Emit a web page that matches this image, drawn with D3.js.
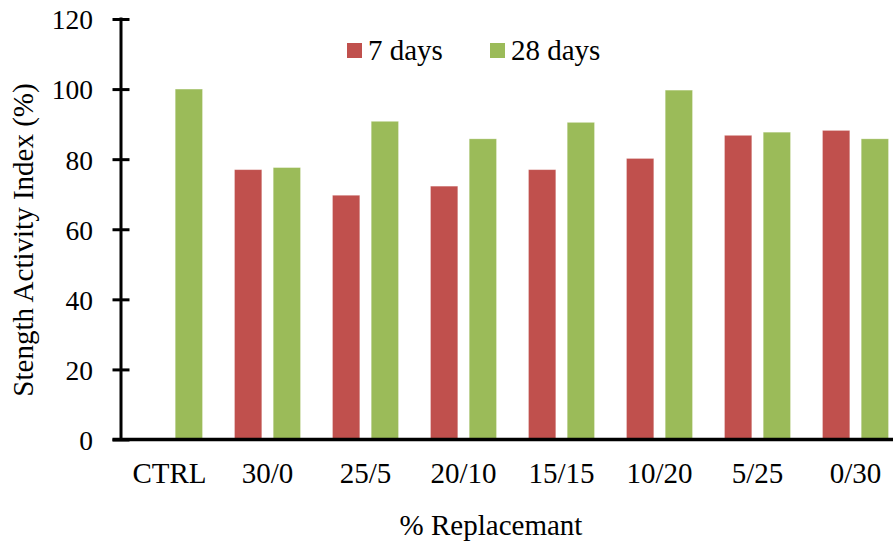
<!DOCTYPE html>
<html>
<head>
<meta charset="utf-8">
<script src="https://cdn.jsdelivr.net/npm/d3@7"></script>
<style>
  html, body { margin: 0; padding: 0; background: #fff; }
  svg { display: block; }
  text { font-family: "Liberation Serif", "Times New Roman", serif; fill: #000; }
</style>
</head>
<body>
<svg id="chart" width="893" height="545"></svg>
<script>
const categories = ["CTRL", "30/0", "25/5", "20/10", "15/15", "10/20", "5/25", "0/30"];
const seriesNames = ["7 days", "28 days"];
const days7 = [null, 77, 69.7, 72.3, 77, 80.2, 86.8, 88.2];
const days28 = [100, 77.6, 90.8, 85.8, 90.5, 99.7, 87.7, 85.8];
const yTicks = [0, 20, 40, 60, 80, 100, 120];
const colors = ["#C0504D", "#9BBB59"];

const svg = d3.select("#chart");
const W = 893, H = 545;

const y = d3.scaleLinear().domain([0, 120]).range([439.5, 19]);
const x0 = d3.scaleBand().domain(categories).range([120.5, 904.5]).paddingInner(0).paddingOuter(0);
const x1 = d3.scaleBand().domain(seriesNames).range([16, 82]).paddingInner(0.295).paddingOuter(0);

const seriesValues = [days7, days28];
const data = [];
categories.forEach((c, i) => {
  seriesNames.forEach((s, j) => {
    const v = seriesValues[j][i];
    if (v !== null && v !== undefined) data.push({ cat: c, series: s, value: v, color: colors[j] });
  });
});

// bars
svg.append("g").selectAll("rect").data(data).join("rect")
  .attr("x", d => x0(d.cat) + x1(d.series))
  .attr("y", d => y(d.value))
  .attr("width", x1.bandwidth())
  .attr("height", d => y(0) - y(d.value))
  .attr("fill", d => d.color)
  .attr("stroke", "#ffffff")
  .attr("stroke-opacity", 0.35)
  .attr("stroke-width", 0.8);

// y axis
const yAxis = d3.axisLeft(y).tickValues(yTicks).tickSize(0).tickPadding(0).tickFormat(d3.format("d"));
const gy = svg.append("g").attr("transform", "translate(121,0)").call(yAxis);
gy.select(".domain").remove();
gy.selectAll(".tick text")
  .attr("x", -28)
  .attr("dy", "0.36em")
  .attr("text-anchor", "end")
  .style("font-size", "27.5px")
  .style("font-family", "'Liberation Serif', 'Times New Roman', serif")
  .attr("fill", "#000");
gy.selectAll(".tick").append("line")
  .attr("x1", -8.5).attr("x2", 8.5)
  .attr("stroke", "#000").attr("stroke-width", 3);
gy.append("line")
  .attr("x1", 0).attr("x2", 0)
  .attr("y1", y(120) - 1.5).attr("y2", y(0))
  .attr("stroke", "#000").attr("stroke-width", 3);

// x axis
const xAxis = d3.axisBottom(x0).tickSize(0).tickPadding(0);
const gx = svg.append("g").attr("transform", `translate(0,${y(0)})`).call(xAxis);
gx.select(".domain").remove();
gx.selectAll(".tick text")
  .attr("y", 43)
  .attr("dy", 0)
  .style("font-size", "29px")
  .style("font-family", "'Liberation Serif', 'Times New Roman', serif")
  .attr("fill", "#000");
gx.append("line")
  .attr("x1", 112.5).attr("x2", W)
  .attr("y1", 0).attr("y2", 0)
  .attr("stroke", "#000").attr("stroke-width", 3.5);

// axis titles
svg.append("text")
  .attr("x", 491).attr("y", 535)
  .attr("text-anchor", "middle")
  .style("font-size", "29px")
  .text("% Replacemant");

svg.append("text")
  .attr("transform", "translate(33,240) rotate(-90)")
  .attr("text-anchor", "middle")
  .style("font-size", "29px")
  .text("Stength Activity Index (%)");

// legend
const legendX = [347, 490];
const legend = svg.append("g");
seriesNames.forEach((s, j) => {
  legend.append("rect")
    .attr("x", legendX[j]).attr("y", 43)
    .attr("width", 15).attr("height", 15)
    .attr("fill", colors[j]);
  legend.append("text")
    .attr("x", legendX[j] + 21).attr("y", 60)
    .style("font-size", "29px")
    .text(s);
});
</script>
</body>
</html>
